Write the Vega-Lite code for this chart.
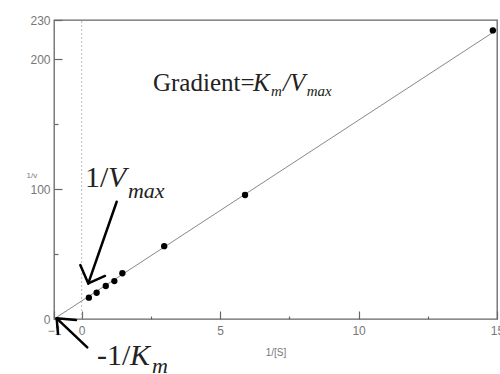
{
  "$schema": "https://vega.github.io/schema/vega-lite/v6.json",
  "width": 443,
  "height": 299,
  "autosize": {"type": "none"},
  "padding": {"left": 54, "top": 20, "right": 3, "bottom": 55},
  "background": "white",
  "config": {
    "view": {"stroke": "#666", "strokeWidth": 1.3},
    "axis": {"grid": false, "domain": false, "tickColor": "#666", "tickWidth": 1.2, "labelColor": "#777", "labelFont": "Liberation Sans", "labelFontSize": 12, "titleFont": "Liberation Sans", "titleFontWeight": "normal", "titleColor": "#777", "labelFlush": false, "labelOverlap": false}
  },
  "datasets": {
    "points": [
      {"x": 0.26, "y": 16.4}, {"x": 0.54, "y": 20.2}, {"x": 0.87, "y": 25.4},
      {"x": 1.18, "y": 29.2}, {"x": 1.47, "y": 35.2}, {"x": 2.98, "y": 56},
      {"x": 5.9, "y": 95.4}, {"x": 14.85, "y": 222}
    ],
    "fit": [{"x": -1, "y": 0}, {"x": 15, "y": 222.5}],
    "arrows": [
      {"x": 1.264, "y": 90.2, "x2": 0.238, "y2": 27.4},
      {"x": 0.238, "y": 27.4, "x2": -0.051, "y2": 41.5},
      {"x": 0.238, "y": 27.4, "x2": 0.841, "y2": 33.1},
      {"x": 0.202, "y": -21.8, "x2": -0.903, "y2": 0.5},
      {"x": -0.903, "y": 0.5, "x2": -0.856, "y2": -11.5},
      {"x": -0.903, "y": 0.5, "x2": -0.206, "y2": -0.8}
    ]
  },
  "layer": [
    {
      "data": {"values": [{"x": 0}]},
      "mark": {"type": "rule", "color": "#bbb", "strokeDash": [2, 2], "strokeWidth": 1},
      "encoding": {
        "x": {
          "field": "x", "type": "quantitative",
          "scale": {"domain": [-1, 15], "nice": false, "zero": false},
          "axis": {
            "values": [-1, 0, 2.5, 5, 7.5, 10, 12.5, 15],
            "labelExpr": "(datum.value == 2.5 || datum.value == 7.5 || datum.value == 12.5) ? '' : datum.label",
            "tickSize": {"condition": {"test": "datum.value == 2.5 || datum.value == 7.5 || datum.value == 12.5", "value": -3}, "value": -8},
            "labelPadding": 14,
            "title": "1/[S]", "titleFontSize": 10, "titleY": 33, "titleBaseline": "middle"
          }
        },
        "y": {
          "datum": 0, "type": "quantitative",
          "scale": {"domain": [0, 230], "nice": false, "zero": false},
          "axis": {
            "values": [0, 50, 100, 150, 200, 230],
            "labelExpr": "(datum.value == 50 || datum.value == 150) ? '' : datum.label",
            "tickSize": {"condition": {"test": "datum.value == 50 || datum.value == 150", "value": -4}, "value": -8},
            "labelPadding": 12,
            "title": "1/v", "titleFontSize": 8, "titleAngle": 0, "titleAlign": "left", "titleBaseline": "middle", "titleX": -28, "titleY": 155
          }
        },
        "y2": {"datum": 230}
      }
    },
    {
      "data": {"name": "fit"},
      "mark": {"type": "line", "color": "#888", "strokeWidth": 1},
      "encoding": {"x": {"field": "x", "type": "quantitative"}, "y": {"field": "y", "type": "quantitative"}}
    },
    {
      "data": {"name": "points"},
      "mark": {"type": "circle", "color": "black", "opacity": 1, "size": 40, "clip": false},
      "encoding": {"x": {"field": "x", "type": "quantitative"}, "y": {"field": "y", "type": "quantitative"}}
    },
    {
      "data": {"name": "arrows"},
      "mark": {"type": "rule", "color": "black", "strokeWidth": 2.5, "clip": false, "strokeCap": "round"},
      "encoding": {
        "x": {"field": "x", "type": "quantitative"}, "y": {"field": "y", "type": "quantitative"},
        "x2": {"field": "x2"}, "y2": {"field": "y2"}
      }
    },
    {
      "data": {"values": [{"x": 2.575, "y": 175.4, "t": "Gradient="}]},
      "mark": {"type": "text", "font": "Liberation Serif", "fontSize": 25, "align": "left", "baseline": "alphabetic", "color": "#222", "clip": false},
      "encoding": {"x": {"field": "x", "type": "quantitative"}, "y": {"field": "y", "type": "quantitative"}, "text": {"field": "t"}}
    },
    {
      "data": {"values": [{"x": 6.186, "y": 175.4, "t": "K"}, {"x": 7.27, "y": 175.4, "t": "/V"}]},
      "mark": {"type": "text", "font": "Liberation Serif", "fontSize": 25, "fontStyle": "italic", "align": "left", "baseline": "alphabetic", "color": "#222", "clip": false},
      "encoding": {"x": {"field": "x", "type": "quantitative"}, "y": {"field": "y", "type": "quantitative"}, "text": {"field": "t"}}
    },
    {
      "data": {"values": [{"x": 6.836, "y": 171.5, "t": "m"}, {"x": 8.13, "y": 171.5, "t": "max"}]},
      "mark": {"type": "text", "font": "Liberation Serif", "fontSize": 15, "fontStyle": "italic", "align": "left", "baseline": "alphabetic", "color": "#222", "clip": false},
      "encoding": {"x": {"field": "x", "type": "quantitative"}, "y": {"field": "y", "type": "quantitative"}, "text": {"field": "t"}}
    },
    {
      "data": {"values": [{"x": 0.119, "y": 101.5, "t": "1/"}, {"x": 0.553, "y": -35.4, "t": "-1/"}]},
      "mark": {"type": "text", "font": "Liberation Serif", "fontSize": 30, "align": "left", "baseline": "alphabetic", "color": "#222", "clip": false},
      "encoding": {"x": {"field": "x", "type": "quantitative"}, "y": {"field": "y", "type": "quantitative"}, "text": {"field": "t"}}
    },
    {
      "data": {"values": [{"x": 0.95, "y": 101.5, "t": "V"}, {"x": 1.745, "y": -35.4, "t": "K"}]},
      "mark": {"type": "text", "font": "Liberation Serif", "fontSize": 30, "fontStyle": "italic", "align": "left", "baseline": "alphabetic", "color": "#222", "clip": false},
      "encoding": {"x": {"field": "x", "type": "quantitative"}, "y": {"field": "y", "type": "quantitative"}, "text": {"field": "t"}}
    },
    {
      "data": {"values": [{"x": 1.672, "y": 93.1, "t": "max"}, {"x": 2.539, "y": -41.5, "t": "m"}]},
      "mark": {"type": "text", "font": "Liberation Serif", "fontSize": 22, "fontStyle": "italic", "align": "left", "baseline": "alphabetic", "color": "#222", "clip": false},
      "encoding": {"x": {"field": "x", "type": "quantitative"}, "y": {"field": "y", "type": "quantitative"}, "text": {"field": "t"}}
    }
  ]
}
